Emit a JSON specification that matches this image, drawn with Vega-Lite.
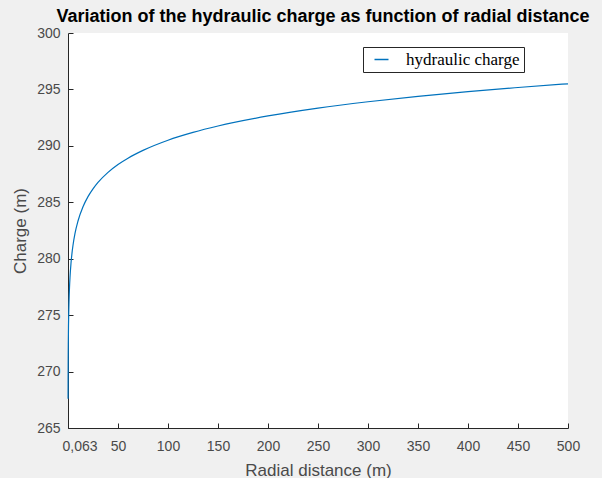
{
  "$schema": "https://vega.github.io/schema/vega-lite/v6.json",
  "width": 500,
  "height": 395,
  "autosize": "none",
  "padding": {"left": 68, "top": 33, "right": 34, "bottom": 50},
  "background": "#f0f0f0",
  "title": {
    "text": "Variation of the hydraulic charge as function of radial distance",
    "font": "Liberation Sans",
    "fontSize": 18,
    "fontWeight": "bold",
    "color": "#000000",
    "anchor": "middle",
    "offset": 0,
    "dx": 5
  },
  "config": {
    "view": {"fill": "white", "stroke": null},
    "axis": {
      "domainColor": "#262626",
      "tickColor": "#262626",
      "labelColor": "#4a4a4a",
      "titleColor": "#4a4a4a",
      "labelFont": "Liberation Sans",
      "titleFont": "Liberation Sans",
      "labelFontSize": 14,
      "titleFontSize": 17,
      "titleFontWeight": "normal",
      "grid": false,
      "tickSize": -5
    }
  },
  "data": {
    "values": [
      {"r": 0.063, "h": 267.6, "series": "hydraulic charge"},
      {"r": 0.1, "h": 269.04, "series": "hydraulic charge"},
      {"r": 0.2, "h": 271.19, "series": "hydraulic charge"},
      {"r": 0.3, "h": 272.45, "series": "hydraulic charge"},
      {"r": 0.5, "h": 274.04, "series": "hydraulic charge"},
      {"r": 0.75, "h": 275.3, "series": "hydraulic charge"},
      {"r": 1, "h": 276.19, "series": "hydraulic charge"},
      {"r": 1.5, "h": 277.45, "series": "hydraulic charge"},
      {"r": 2, "h": 278.34, "series": "hydraulic charge"},
      {"r": 3, "h": 279.6, "series": "hydraulic charge"},
      {"r": 4, "h": 280.5, "series": "hydraulic charge"},
      {"r": 5, "h": 281.19, "series": "hydraulic charge"},
      {"r": 7, "h": 282.24, "series": "hydraulic charge"},
      {"r": 10, "h": 283.34, "series": "hydraulic charge"},
      {"r": 15, "h": 284.6, "series": "hydraulic charge"},
      {"r": 20, "h": 285.5, "series": "hydraulic charge"},
      {"r": 25, "h": 286.19, "series": "hydraulic charge"},
      {"r": 30, "h": 286.76, "series": "hydraulic charge"},
      {"r": 40, "h": 287.65, "series": "hydraulic charge"},
      {"r": 50, "h": 288.35, "series": "hydraulic charge"},
      {"r": 60, "h": 288.91, "series": "hydraulic charge"},
      {"r": 75, "h": 289.6, "series": "hydraulic charge"},
      {"r": 100, "h": 290.5, "series": "hydraulic charge"},
      {"r": 125, "h": 291.19, "series": "hydraulic charge"},
      {"r": 150, "h": 291.76, "series": "hydraulic charge"},
      {"r": 200, "h": 292.65, "series": "hydraulic charge"},
      {"r": 250, "h": 293.35, "series": "hydraulic charge"},
      {"r": 300, "h": 293.91, "series": "hydraulic charge"},
      {"r": 350, "h": 294.39, "series": "hydraulic charge"},
      {"r": 400, "h": 294.81, "series": "hydraulic charge"},
      {"r": 450, "h": 295.17, "series": "hydraulic charge"},
      {"r": 500, "h": 295.5, "series": "hydraulic charge"}
    ]
  },
  "mark": {"type": "line", "strokeWidth": 1.2, "interpolate": "monotone"},
  "encoding": {
    "x": {
      "field": "r",
      "type": "quantitative",
      "scale": {"domain": [0, 500], "nice": false},
      "axis": {
        "title": "Radial distance (m)",
        "values": [0, 50, 100, 150, 200, 250, 300, 350, 400, 450, 500],
        "labelExpr": "datum.value == 0 ? '0,063' : datum.label",
        "labelFlush": false,
        "labelAlign": {"condition": {"test": "datum.value == 0", "value": "left"}, "value": "center"},
        "labelOffset": {"condition": {"test": "datum.value == 0", "value": -6}, "value": 0},
        "labelPadding": 16,
        "titlePadding": 9
      }
    },
    "y": {
      "field": "h",
      "type": "quantitative",
      "scale": {"domain": [265, 300], "nice": false, "zero": false},
      "axis": {
        "title": "Charge (m)",
        "values": [265, 270, 275, 280, 285, 290, 295, 300],
        "labelPadding": 13,
        "titlePadding": 7
      }
    },
    "color": {
      "field": "series",
      "type": "nominal",
      "scale": {"range": ["#0072BD"]},
      "legend": {
        "title": null,
        "orient": "none",
        "legendX": 295,
        "legendY": 14,
        "symbolType": "stroke",
        "symbolStrokeWidth": 1.5,
        "symbolSize": 196,
        "symbolOffset": 6,
        "labelFont": "Liberation Serif",
        "labelFontSize": 17,
        "labelColor": "#000000",
        "labelOffset": 16,
        "labelExpr": "datum.label + '\u2003\u2003'",
        "labelLimit": 300,
        "fillColor": "white",
        "strokeColor": "#262626",
        "padding": 4
      }
    }
  }
}
